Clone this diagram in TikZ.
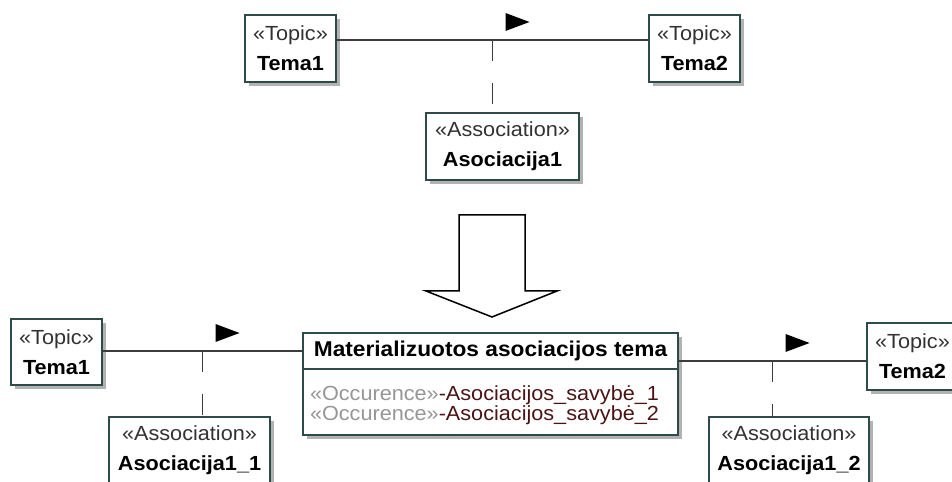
\documentclass[tikz,border=0pt]{standalone}
\usepackage{fontspec}
\setmainfont{Liberation Sans}[FakeStretch=1.06]
\usetikzlibrary{shadows}

\definecolor{umlborder}{RGB}{45,75,75}
\definecolor{umlline}{RGB}{60,60,60}
\definecolor{stereo}{RGB}{50,50,50}
\definecolor{occgray}{RGB}{150,150,150}
\definecolor{attrred}{RGB}{75,20,20}

\newcommand{\stereotype}[1]{{\color{stereo}«#1»}}
\newcommand{\roleflag}[1]{\fill ([shift={(13,-27)}]#1) -- ++(0,18) -- ++(24,-9) -- cycle;}

\begin{document}
\begin{tikzpicture}[x=1bp, y=-1bp,
  umlbox/.style={draw=umlborder, line width=1.6bp, fill=white, outer sep=0pt,
    drop shadow={shadow xshift=4bp, shadow yshift=-4bp, fill=black!30, opacity=1},
    align=center, font=\fontsize{20.5}{30}\selectfont, minimum height=67bp},
  link/.style={draw=umlline, line width=1.4bp},
  dashlink/.style={link, dash pattern=on 21bp off 22bp}]

\useasboundingbox (0,0) rectangle (952,482);

% Top: Tema1 -- Tema2 with Asociacija1
\node[umlbox, minimum width=91bp] (t1) at (290.5,48.5) {\stereotype{Topic}\\\textbf{Tema1}};
\node[umlbox, minimum width=91bp] (t2) at (694.5,48.5) {\stereotype{Topic}\\\textbf{Tema2}};
\node[umlbox, minimum width=153bp] (a1) at (502.5,146.5) {\stereotype{Association}\\\textbf{Asociacija1}};

\coordinate (j1) at (492.5,40);
\draw[link] (t1.east |- j1) -- (t2.west |- j1);
\draw[dashlink] (j1) -- (j1 |- a1.north);
\roleflag{j1}

% Transformation arrow
\draw[line width=1.5bp, fill=white] (459,215) -- (525,215) -- (525,291) -- (557,291)
  -- (492,317) -- (426,291) -- (459,291) -- cycle;

% Bottom: materialized association topic
\node[umlbox, minimum width=375bp, minimum height=36bp,
  font=\fontsize{21.5}{25}\selectfont\bfseries] (mhead) at (490.5,351) {Materializuotos asociacijos tema};
\node[umlbox, minimum width=375bp, minimum height=66bp, text width=361bp, inner xsep=7bp,
  align=left, text depth=17bp, font=\fontsize{20.5}{19.5}\selectfont, anchor=north] (mbody) at (mhead.south)
  {{\color{occgray}«Occurence»}{\color{attrred}-Asociacijos\_savybė\_1}\\
   {\color{occgray}«Occurence»}{\color{attrred}-Asociacijos\_savybė\_2}};

% Bottom left: Tema1 with Asociacija1_1
\node[umlbox, minimum width=91bp, minimum height=66bp] (t3) at (56.5,352) {\stereotype{Topic}\\\textbf{Tema1}};
\node[umlbox, minimum width=161bp] (a2) at (189.5,450.5) {\stereotype{Association}\\\textbf{Asociacija1\_1}};

\coordinate (j2) at (202.5,351);
\draw[link] (t3.east |- j2) -- (mhead.west |- j2);
\draw[dashlink] (j2) -- (j2 |- a2.north);
\roleflag{j2}

% Bottom right: Tema2 with Asociacija1_2
\node[umlbox, minimum width=91bp] (t4) at (912.5,356.5) {\stereotype{Topic}\\\textbf{Tema2}};
\node[umlbox, minimum width=160bp] (a3) at (789,450.5) {\stereotype{Association}\\\textbf{Asociacija1\_2}};

\coordinate (j3) at (772.5,361);
\draw[link] (mbody.east |- j3) -- (t4.west |- j3);
\draw[dashlink] (j3) -- (j3 |- a3.north);
\roleflag{j3}

\end{tikzpicture}
\end{document}
